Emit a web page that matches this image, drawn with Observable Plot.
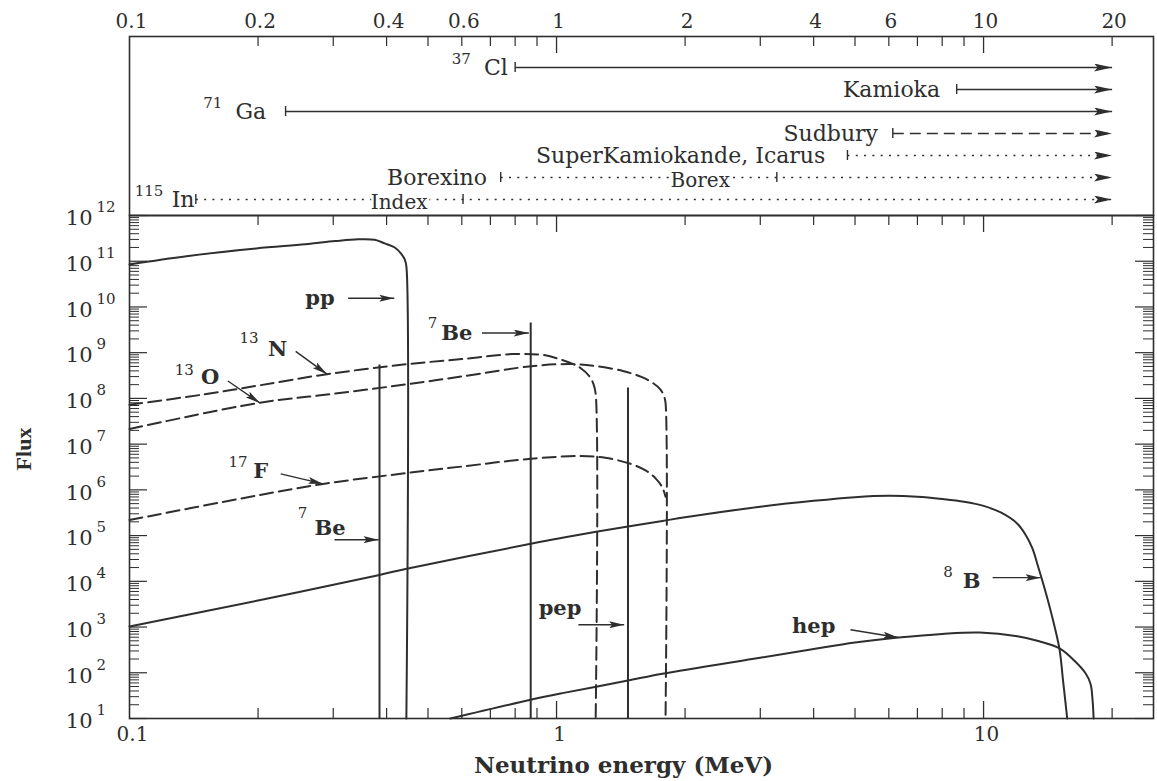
<!DOCTYPE html>
<html>
<head>
<meta charset="utf-8">
<script src="https://cdn.jsdelivr.net/npm/d3@7"></script>
<script src="https://cdn.jsdelivr.net/npm/@observablehq/plot@0.6"></script>
<style>
  html, body { margin: 0; padding: 0; background: #fff; }
  #chart { position: relative; width: 1157px; height: 781px; overflow: hidden; background: #fff; }
  #chart svg { position: absolute; left: 0; top: 0; }
</style>
</head>
<body>
<div id="chart"></div>
<script>
// ---------------- DATA ----------------
// Energies in MeV, fluxes given as log10(flux)
const ppE    = [0.1, 0.136, 0.198, 0.258, 0.303, 0.343, 0.375, 0.396, 0.418, 0.432, 0.441, 0.445, 0.445];
const ppLogF = [10.93, 11.11, 11.28, 11.37, 11.44, 11.48, 11.47, 11.39, 11.30, 11.17, 11.04, 10.89, 1];

const n13E    = [0.1, 0.15, 0.2, 0.29, 0.448, 0.6, 0.79, 0.93, 1.0, 1.095, 1.14, 1.19, 1.22, 1.235, 1.235];
const n13LogF = [7.86, 8.09, 8.28, 8.53, 8.75, 8.86, 8.97, 8.95, 8.88, 8.75, 8.66, 8.50, 8.32, 8.10, 1];

const o15E    = [0.1, 0.2, 0.3, 0.448, 0.6, 0.884, 1.095, 1.25, 1.43, 1.58, 1.68, 1.75, 1.785, 1.80, 1.80];
const o15LogF = [7.33, 7.90, 8.10, 8.31, 8.48, 8.71, 8.75, 8.70, 8.60, 8.47, 8.34, 8.20, 8.05, 7.90, 1];

const f17E    = [0.1, 0.18, 0.284, 0.448, 0.6, 0.87, 1.14, 1.3, 1.49, 1.62, 1.71, 1.77, 1.80];
const f17LogF = [5.34, 5.80, 6.13, 6.37, 6.51, 6.68, 6.74, 6.70, 6.57, 6.42, 6.24, 6.05, 5.85];

const b8E    = [0.1, 0.2, 0.385, 0.443, 0.87, 1.04, 1.47, 1.77, 2, 3, 4, 5, 6, 7, 8, 9, 10, 11, 12, 12.5, 13, 13.4, 13.95, 14.4, 15.05, 15.35, 15.7];
const b8LogF = [3.01, 3.58, 4.14, 4.27, 4.82, 4.96, 5.20, 5.32, 5.40, 5.63, 5.76, 5.84, 5.87, 5.85, 5.80, 5.74, 5.65, 5.50, 5.26, 5.04, 4.73, 4.34, 3.79, 3.31, 2.53, 1.83, 1];

const hepE    = [0.564, 0.87, 1.04, 1.47, 1.77, 3, 4, 5, 6.32, 8, 9.79, 12, 13.5, 15.1, 16.3, 17.3, 17.8, 18.0, 18.1];
const hepLogF = [1, 1.41, 1.56, 1.83, 1.98, 2.33, 2.52, 2.66, 2.77, 2.85, 2.88, 2.80, 2.69, 2.53, 2.27, 2.0, 1.76, 1.4, 1];

// monoenergetic lines (7Be 0.384, 7Be 0.862, pep 1.442)
const lineE    = [0.385, 0.87, 1.47];
const lineLogF = [8.73, 9.65, 8.23];

// annotations in the flux panel
const annoText  = ["pp", "N", "O", "F", "Be", "Be", "pep", "B", "hep"];
const annoSup   = ["", "13", "13", "17", "7", "7", "", "8", ""];
const annoE     = [0.258, 0.211, 0.147, 0.195, 0.537, 0.271, 0.908, 8.94, 3.56];
const annoLogF  = [10.19, 9.08, 8.47, 6.41, 9.43, 5.15, 3.40, 4.01, 3.01];
const supE      = [null, 0.2005, 0.1415, 0.189, 0.526, 0.261, null, 8.47, null];
const supLogF   = [null, 9.32, 8.62, 6.61, 9.65, 5.50, null, 4.21, null];
const arrowE1    = [0.325, 0.245, 0.170, 0.226, 0.669, 0.302, 1.125, 10.5, 4.88];
const arrowLogF1 = [10.19, 9.03, 8.38, 6.35, 9.43, 4.91, 3.05, 4.08, 2.94];
const arrowE2    = [0.417, 0.290, 0.202, 0.284, 0.861, 0.383, 1.44, 13.6, 6.31];
const arrowLogF2 = [10.19, 8.53, 7.90, 6.13, 9.43, 4.91, 3.05, 4.08, 2.77];

// detector thresholds (top panel)
const detectorRows      = ["Cl", "Kamioka", "Ga", "Sudbury", "SK", "Borexino", "Index"];
const detectorThreshold = [0.80, 8.65, 0.232, 6.13, 4.80, 0.74, 0.143];
const detectorStyle     = ["solid", "solid", "solid", "dashed", "dotted", "dotted", "dotted"];
const detectorLabel     = ["Cl", "Kamioka", "Ga", "Sudbury", "SuperKamiokande, Icarus", "Borexino", "In"];
const detectorLabelEnd  = [0.769, 7.91, 0.209, 5.66, 4.26, 0.687, 0.142];
const detectorSup       = ["37", "", "71", "", "", "", "115"];
const detectorSupEnd    = [0.630, null, 0.165, null, null, null, 0.120];
const detectorArrowEnd  = 20;
const innerRows   = ["Borexino", "Index"];
const innerLabel  = ["Borex", "Index"];
const innerLabelE = [2.17, 0.428];
const innerTickE  = [3.28, 0.604];

// axis ticks and labels
const xMinorTicks = [0.2, 0.3, 0.4, 0.5, 0.6, 0.7, 0.8, 0.9, 2, 3, 4, 5, 6, 7, 8, 9, 20];
const xMajorTicks = [1, 10];
const topAxisLabels = [0.1, 0.2, 0.4, 0.6, 1, 2, 4, 6, 10, 20];
const bottomAxisLabels = [0.1, 1, 10];
const yExponents = [1, 2, 3, 4, 5, 6, 7, 8, 9, 10, 11, 12];
const yMinorMultipliers = [2, 3, 4, 5, 6, 7, 8, 9];

// ---------------- LAYOUT / STYLE ----------------
const W = 1157, H = 781;
const mL = 129, mR = 4;
const mainTop = 215, mainBottom = 63;
const frameW = W - mL - mR;
const frameH = H - mainTop - mainBottom;
const topMargin = 36;
const topFrameH = mainTop - topMargin;
const ink = "#2e2e2e";
const serif = "'DejaVu Serif', 'Liberation Serif', serif";
const xDomain = [0.1, 25];

// filled arrow heads as custom markers
const SVGNS = "http://www.w3.org/2000/svg";
const head = (len, half) => (color, context) => {
  const doc = (context && context.document) || document;
  const m = doc.createElementNS(SVGNS, "marker");
  m.setAttribute("viewBox", `${-len} ${-half} ${len} ${2 * half}`);
  m.setAttribute("markerWidth", len);
  m.setAttribute("markerHeight", 2 * half);
  m.setAttribute("markerUnits", "userSpaceOnUse");
  m.setAttribute("refX", 0);
  m.setAttribute("refY", 0);
  m.setAttribute("orient", "auto");
  const p = doc.createElementNS(SVGNS, "path");
  p.setAttribute("d", `M${-len},${-half}L0,0L${-len},${half}L${-len * 0.8},0Z`);
  p.setAttribute("fill", color);
  p.setAttribute("stroke", "none");
  m.appendChild(p);
  return m;
};
let markersOK = true;
try { Plot.link([0], {x1: () => 1, x2: () => 2, y1: () => 1, y2: () => 1, markerEnd: head(10, 3)}); }
catch (e) { markersOK = false; }
function arrowLinks(data, opts, len, half) {
  if (markersOK) return Plot.link(data, {...opts, markerEnd: head(len, half)});
  return Plot.arrow(data, {...opts, headLength: len, headAngle: 2 * Math.atan(half / len) * 180 / Math.PI});
}

// ---------------- BUILD TABLES ----------------
const toRows = (E, L, series) => E.map((e, i) => ({E: e, F: 10 ** L[i], series}));
const pp = toRows(ppE, ppLogF, "pp");
const n13 = toRows(n13E, n13LogF, "13N");
const o15 = toRows(o15E, o15LogF, "15O");
const f17 = toRows(f17E, f17LogF, "17F");
const b8 = toRows(b8E, b8LogF, "8B");
const hep = toRows(hepE, hepLogF, "hep");
const lines = lineE.map((e, i) => ({E: e, F: 10 ** lineLogF[i]}));
const annos = annoText.map((t, i) => ({
  t, sup: annoSup[i], E: annoE[i], F: 10 ** annoLogF[i],
  sE: supE[i], sF: supLogF[i] == null ? null : 10 ** supLogF[i]
}));
const arrows = arrowE1.map((e, i) => ({E1: e, F1: 10 ** arrowLogF1[i], E2: arrowE2[i], F2: 10 ** arrowLogF2[i]}));
const yMajor = yExponents.map(e => ({e, v: 10 ** e}));
const yMinor = yExponents.slice(0, -1).flatMap(e => yMinorMultipliers.map(k => k * 10 ** e));
const detectors = detectorRows.map((row, i) => ({
  row, start: detectorThreshold[i], style: detectorStyle[i], label: detectorLabel[i],
  labelEnd: detectorLabelEnd[i], sup: detectorSup[i], supEnd: detectorSupEnd[i]
}));
const inner = innerRows.map((row, i) => ({row, label: innerLabel[i], E: innerLabelE[i], tick: innerTickE[i]}));

const curve = "catmull-rom";
const dashMain = "13,6";

// ---------------- MAIN PANEL ----------------
const mainPlot = Plot.plot({
  width: W, height: H,
  marginTop: mainTop, marginBottom: mainBottom, marginLeft: mL, marginRight: mR,
  x: {type: "log", domain: xDomain, axis: null},
  y: {type: "log", domain: [10, 1e12], axis: null},
  style: {background: "white", fontFamily: serif, overflow: "visible"},
  marks: [
    // inward ticks
    Plot.tickX(xMinorTicks, {x: d => d, insetBottom: frameH - 10, stroke: ink, strokeWidth: 1.2}),
    Plot.tickX(xMajorTicks, {x: d => d, insetBottom: frameH - 17, stroke: ink, strokeWidth: 1.3}),
    Plot.tickX(xMinorTicks, {x: d => d, insetTop: frameH - 10, stroke: ink, strokeWidth: 1.2}),
    Plot.tickX(xMajorTicks, {x: d => d, insetTop: frameH - 17, stroke: ink, strokeWidth: 1.3}),
    Plot.tickY(yMajor, {y: "v", insetRight: frameW - 18, stroke: ink, strokeWidth: 1.2}),
    Plot.tickY(yMinor, {y: d => d, insetRight: frameW - 10, stroke: ink, strokeWidth: 1}),
    Plot.tickY(yMajor, {y: "v", insetLeft: frameW - 18, stroke: ink, strokeWidth: 1.2}),
    Plot.tickY(yMinor, {y: d => d, insetLeft: frameW - 10, stroke: ink, strokeWidth: 1}),
    // spectra
    Plot.line(pp, {x: "E", y: "F", stroke: ink, strokeWidth: 2, curve}),
    Plot.line(b8, {x: "E", y: "F", stroke: ink, strokeWidth: 2, curve}),
    Plot.line(hep, {x: "E", y: "F", stroke: ink, strokeWidth: 2, curve}),
    Plot.line(n13, {x: "E", y: "F", stroke: ink, strokeWidth: 2, strokeDasharray: dashMain, curve}),
    Plot.line(o15, {x: "E", y: "F", stroke: ink, strokeWidth: 2, strokeDasharray: dashMain, curve}),
    Plot.line(f17, {x: "E", y: "F", stroke: ink, strokeWidth: 2, strokeDasharray: dashMain, curve}),
    Plot.ruleX(lines, {x: "E", y1: () => 10, y2: "F", stroke: ink, strokeWidth: 2}),
    Plot.frame({stroke: ink, strokeWidth: 1.6}),
    // annotations
    arrowLinks(arrows, {x1: "E1", y1: "F1", x2: "E2", y2: "F2", stroke: ink, strokeWidth: 1.4}, 15, 3.5),
    Plot.text(annos, {x: "E", y: "F", text: "t", textAnchor: "start", lineAnchor: "middle", fontWeight: "bold", fontSize: 21, fill: ink, fontFamily: serif}),
    Plot.text(annos.filter(d => d.sup), {x: "sE", y: "sF", text: "sup", textAnchor: "end", lineAnchor: "middle", fontSize: 15, fill: ink, fontFamily: serif}),
    // y tick labels 10^n
    Plot.text(yMajor, {y: "v", text: () => "10", frameAnchor: "left", textAnchor: "end", lineAnchor: "middle", dx: -37, dy: 3, fontSize: 21, fill: ink, fontFamily: serif}),
    Plot.text(yMajor, {y: "v", text: d => String(d.e), frameAnchor: "left", textAnchor: "start", lineAnchor: "middle", dx: -33, dy: -8, fontSize: 15, fill: ink, fontFamily: serif}),
    // x tick labels
    Plot.text(bottomAxisLabels, {x: d => d, text: d => String(d), frameAnchor: "bottom", lineAnchor: "middle", dx: 3, dy: 16, fontSize: 20, fill: ink, fontFamily: serif}),
    // axis titles
    Plot.text(["Neutrino energy (MeV)"], {frameAnchor: "bottom", textAnchor: "middle", lineAnchor: "middle", dx: -18, dy: 47, fontSize: 23, fontWeight: "bold", fill: ink, fontFamily: serif}),
    Plot.text(["Flux"], {frameAnchor: "left", textAnchor: "middle", lineAnchor: "middle", dx: -106, dy: -18, rotate: -90, fontSize: 22, fontWeight: "bold", fill: ink, fontFamily: "'Liberation Serif', serif"})
  ]
});

// ---------------- TOP (DETECTOR) PANEL ----------------
const dashFor = {solid: null, dashed: "11,6", dotted: "2,6.3"};
const topMarks = [
  Plot.tickX(xMinorTicks, {x: d => d, insetBottom: topFrameH - 10, stroke: ink, strokeWidth: 1.2}),
  Plot.tickX(xMajorTicks, {x: d => d, insetBottom: topFrameH - 17, stroke: ink, strokeWidth: 1.3}),
  Plot.text(topAxisLabels, {x: d => d, text: d => String(d), frameAnchor: "top", lineAnchor: "middle", dx: 2, dy: -15, fontSize: 20, fill: ink, fontFamily: serif}),
  Plot.frame({stroke: ink, strokeWidth: 1.6})
];
for (const s of ["solid", "dashed", "dotted"]) {
  const rows = detectors.filter(d => d.style === s);
  topMarks.push(arrowLinks(rows, {
    x1: "start", x2: () => detectorArrowEnd, y1: "row", y2: "row",
    stroke: ink, strokeWidth: 1.4, strokeDasharray: dashFor[s]
  }, 18, 4));
}
topMarks.push(
  Plot.ruleX(detectors, {x: "start", y1: "row", y2: "row", insetTop: -5, insetBottom: -5, stroke: ink, strokeWidth: 1.4}),
  Plot.ruleX(inner, {x: "tick", y1: "row", y2: "row", insetTop: -5, insetBottom: -5, stroke: ink, strokeWidth: 1.4}),
  Plot.text(detectors, {x: "labelEnd", y: "row", text: "label", textAnchor: "end", lineAnchor: "middle", fontSize: 22, fill: ink, fontFamily: serif}),
  Plot.text(detectors.filter(d => d.sup), {x: "supEnd", y: "row", text: "sup", textAnchor: "end", lineAnchor: "middle", dy: -8, fontSize: 15, fill: ink, fontFamily: serif}),
  Plot.text(inner, {x: "E", y: "row", text: "label", textAnchor: "middle", lineAnchor: "middle", dy: 3, fontSize: 20, fill: ink, stroke: "white", strokeWidth: 5, fontFamily: serif})
);

const topPlot = Plot.plot({
  width: W, height: mainTop,
  marginTop: topMargin, marginBottom: 0, marginLeft: mL, marginRight: mR,
  x: {type: "log", domain: xDomain, axis: null},
  y: {type: "point", domain: detectorRows, range: [66, 200], padding: 0, axis: null},
  style: {background: "transparent", fontFamily: serif, overflow: "visible"},
  marks: topMarks
});

const chart = document.getElementById("chart");
chart.append(mainPlot, topPlot);
</script>
</body>
</html>
